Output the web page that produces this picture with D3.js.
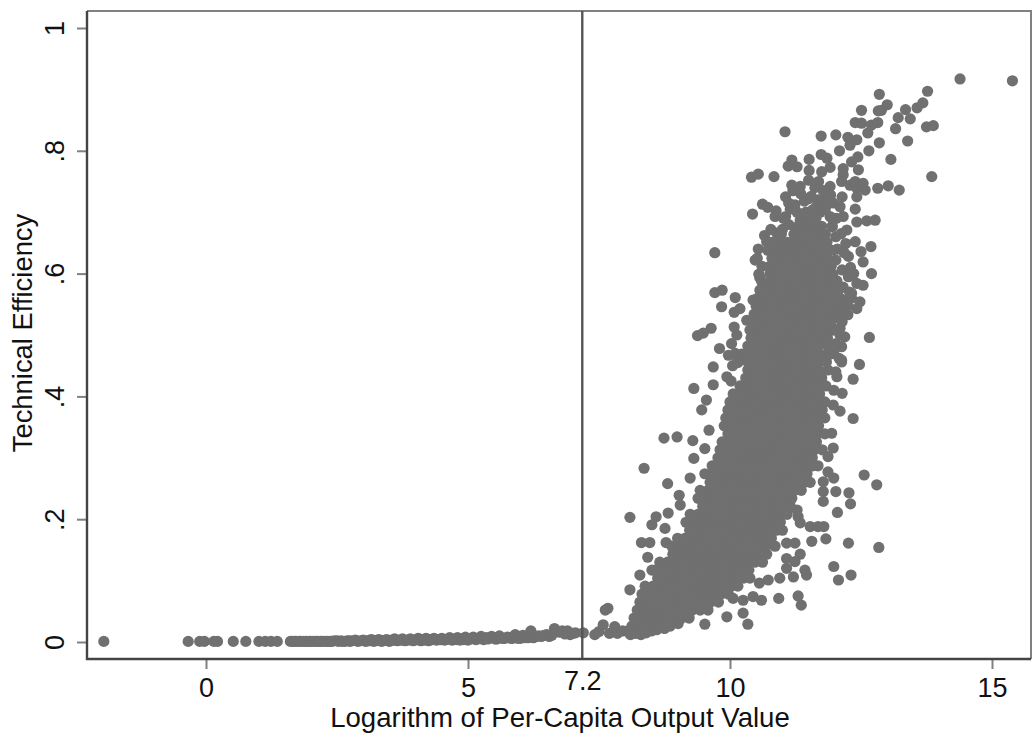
<!DOCTYPE html>
<html>
<head>
<meta charset="utf-8">
<script src="https://cdn.jsdelivr.net/npm/d3@7"></script>
<style>
  html, body {margin: 0; background: #fff;}
  text {font-family: "Liberation Sans", sans-serif; fill: #111;}
</style>
</head>
<body>
<div id="viz"></div>
<script>
// tick labels
const xTicks = [0, 5, 10, 15]
const yTicks = [0, .2, .4, .6, .8, 1]
const cutoff = 7.2

// low efficiency tail along the bottom
const tailX = [-1.95,-.34,-.12,-.03,.15,.22,.52,.76,1.01,1.13,1.24,1.36,1.61,1.7,1.8,1.9,2.0,2.1,2.2,2.3,2.4,2.5,2.6,2.7,2.75,2.85,2.9,3.0,3.05,3.15,3.2,3.3,3.35,3.45,3.5,3.6,3.65,3.75,3.8,3.9,3.95,4.05,4.1,4.2,4.25,4.35,4.4,4.5,4.55,4.65,4.7,4.8,4.85,4.95,5.0,5.1,5.15,5.25,5.3,5.4,5.45,5.55,5.6,5.7,5.75,5.85,5.9,6.0,6.05,6.15,6.2,6.3,6.4,6.5,6.55,6.65,6.75,6.8,6.95,7.05,7.2,7.42,7.5,7.58,7.62,7.67,7.7,7.8,7.85,7.95,8.05,8.1,8.2,8.3,8.4,8.5,8.6,8.75]
const tailY = [.001,.001,.001,.001,.001,.001,.001,.001,.001,.001,.001,.001,.001,.001,.001,.001,.001,.001,.001,.001,.001,.002,.001,.002,.001,.003,.001,.003,.001,.004,.001,.004,.001,.004,.001,.005,.002,.005,.002,.005,.002,.006,.002,.006,.002,.006,.003,.006,.003,.007,.003,.007,.003,.008,.003,.008,.004,.009,.004,.006,.009,.005,.01,.006,.008,.006,.012,.006,.011,.007,.018,.009,.009,.012,.009,.022,.016,.018,.012,.015,.015,.012,.017,.028,.052,.055,.014,.025,.014,.018,.018,.012,.014,.012,.015,.018,.02,.022]

// the same tail, points that fill the band between the ones above
const bandX = [1.65,1.72,1.78,1.85,1.93,1.98,2.05,2.13,2.18,2.25,2.33,2.38,2.45,2.53,2.58,2.65,2.72,2.78,2.88,2.95,3.02,3.08,3.12,3.18,3.25,3.28,3.38,3.42,3.48,3.55,3.58,3.68,3.72,3.78,3.85,3.88,3.98,4.02,4.08,4.15,4.18,4.28,4.32,4.38,4.45,4.48,4.58,4.62,4.68,4.75,4.78,4.88,4.92,4.98,5.05,5.08,5.18,5.22,5.28,5.35,5.38,5.48,5.52,5.58,5.65,5.68,5.78,5.82,5.88,5.95,5.98,6.08,6.12,6.18,6.25,6.35,6.45,6.6,6.7,6.85,6.9,7.0]
const bandY = [.001,.001,.001,.001,.001,.001,.001,.001,.001,.001,.001,.001,.002,.001,.002,.001,.002,.002,.002,.002,.002,.002,.002,.003,.002,.003,.002,.003,.002,.003,.003,.003,.003,.003,.003,.004,.003,.004,.003,.004,.003,.004,.004,.004,.004,.004,.004,.005,.004,.005,.004,.005,.004,.006,.005,.006,.005,.006,.005,.007,.005,.007,.005,.008,.006,.006,.007,.006,.008,.006,.009,.007,.008,.013,.007,.01,.011,.011,.018,.013,.018,.014]

const coreY = [.026,.039,.052,.065,.078,.091,.104,.117,.13,.143,.156,.169,.182,.195,.208,.221,.234,.247,.26,.274,.287,.3,.313,.326,.339,.352,.365,.378,.391,.404,.417,.43,.443,.456,.469,.482,.495,.508,.521,.534,.547,.56,.573,.586,.599,.612,.625,.638,.651,.664,.677,.69]
const coreX = [
  [8.13,8.28,8.41,8.57,8.72,8.86],
  [8.17,8.33,8.48,8.63,8.77,8.93,9.08,9.22],
  [8.23,8.38,8.52,8.68,8.83,8.98,9.12,9.28,9.43,9.58],
  [8.28,8.44,8.59,8.73,8.88,9.03,9.19,9.33,9.48,9.63,9.78],
  [8.32,8.47,8.62,8.78,8.92,9.07,9.23,9.38,9.52,9.67,9.83,9.97],
  [8.38,8.53,8.69,8.83,8.98,9.14,9.28,9.43,9.59,9.73,9.88,10.03,10.15],
  [8.62,8.76,8.92,9.07,9.21,9.37,9.52,9.66,9.81,9.97,10.11,10.26,10.38],
  [8.57,8.72,8.87,9.01,9.17,9.31,9.46,9.62,9.76,9.91,10.07,10.21,10.36],
  [8.66,8.81,8.96,9.12,9.26,9.41,9.57,9.71,9.86,10.02,10.16,10.31,10.47,10.62],
  [8.91,9.06,9.21,9.36,9.51,9.66,9.81,9.96,10.11,10.26,10.41,10.56,10.7],
  [8.89,9.04,9.19,9.33,9.49,9.64,9.78,9.94,10.09,10.23,10.39,10.54,10.69,10.86],
  [9.0,9.14,9.3,9.44,9.59,9.75,9.89,10.04,10.2,10.34,10.49,10.65,10.79],
  [9.23,9.38,9.54,9.68,9.83,9.99,10.13,10.28,10.44,10.58,10.73,10.89,11.0],
  [9.16,9.31,9.46,9.61,9.76,9.91,10.06,10.21,10.36,10.51,10.66,10.81,10.96],
  [9.24,9.39,9.54,9.69,9.84,9.99,10.14,10.29,10.44,10.59,10.74,10.89,11.0,11.09],
  [9.48,9.63,9.78,9.93,10.08,10.23,10.38,10.53,10.68,10.83,10.98,11.15],
  [9.39,9.54,9.69,9.84,9.99,10.14,10.29,10.44,10.59,10.74,10.89,11.04,11.18],
  [9.43,9.58,9.73,9.88,10.03,10.18,10.33,10.48,10.63,10.78,10.93,11.08,11.23,11.36],
  [9.62,9.77,9.92,10.07,10.22,10.37,10.52,10.67,10.82,10.97,11.12,11.27,11.42,11.53],
  [9.52,9.67,9.82,9.97,10.12,10.27,10.42,10.57,10.72,10.87,11.02,11.17,11.32,11.47],
  [9.66,9.81,9.96,10.11,10.26,10.41,10.56,10.71,10.86,11.01,11.16,11.31,11.46,11.58,11.68],
  [9.77,9.92,10.07,10.22,10.37,10.52,10.67,10.82,10.97,11.12,11.27,11.42,11.57],
  [9.81,9.96,10.11,10.26,10.41,10.56,10.71,10.86,11.01,11.16,11.31,11.46,11.61,11.76],
  [9.85,10.0,10.15,10.3,10.45,10.6,10.75,10.9,11.05,11.2,11.35,11.5,11.65],
  [9.96,10.02,10.17,10.32,10.47,10.62,10.77,10.92,11.07,11.22,11.37,11.52,11.67,11.81],
  [9.89,10.04,10.19,10.34,10.49,10.64,10.79,10.94,11.09,11.24,11.39,11.54,11.69],
  [9.92,10.07,10.22,10.37,10.52,10.67,10.82,10.97,11.12,11.27,11.42,11.57,11.72,11.81],
  [9.96,10.11,10.26,10.41,10.56,10.71,10.86,11.01,11.16,11.31,11.46,11.61,11.76],
  [10.0,10.15,10.3,10.45,10.6,10.75,10.9,11.05,11.2,11.35,11.5,11.65,11.81],
  [10.06,10.21,10.36,10.51,10.66,10.81,10.96,11.11,11.26,11.41,11.56,11.71],
  [10.19,10.34,10.49,10.64,10.79,10.94,11.09,11.24,11.39,11.54,11.69,11.83],
  [10.3,10.45,10.6,10.75,10.9,11.05,11.2,11.35,11.5,11.65,11.75],
  [10.34,10.49,10.64,10.79,10.94,11.09,11.24,11.39,11.54,11.69,11.87],
  [10.34,10.49,10.64,10.79,10.94,11.09,11.24,11.39,11.54,11.69,11.84],
  [10.22,10.34,10.49,10.64,10.79,10.94,11.09,11.24,11.39,11.54,11.69,11.84,11.91],
  [10.34,10.49,10.64,10.79,10.94,11.09,11.24,11.39,11.54,11.69,11.87],
  [10.4,10.55,10.7,10.85,11.0,11.15,11.3,11.45,11.6,11.75,11.86],
  [10.38,10.53,10.68,10.83,10.98,11.13,11.28,11.43,11.58,11.73,11.88,11.97],
  [10.42,10.57,10.72,10.87,11.02,11.17,11.32,11.47,11.62,11.77,11.92],
  [10.46,10.61,10.76,10.91,11.06,11.21,11.36,11.51,11.66,11.81,11.96,12.08],
  [10.5,10.65,10.8,10.95,11.1,11.25,11.4,11.55,11.7,11.85,12.0,12.15,12.25],
  [10.53,10.68,10.83,10.98,11.13,11.28,11.43,11.58,11.73,11.88,12.03],
  [10.57,10.72,10.87,11.02,11.17,11.32,11.47,11.62,11.77,11.92,12.07],
  [10.61,10.76,10.91,11.06,11.21,11.36,11.51,11.66,11.81,11.96],
  [10.55,10.76,10.91,11.06,11.21,11.36,11.51,11.66,11.81,11.96],
  [10.61,10.76,10.91,11.06,11.21,11.36,11.51,11.66,11.81,11.93],
  [10.52,10.8,10.95,11.1,11.25,11.4,11.55,11.7,11.85],
  [10.72,10.87,11.02,11.17,11.32,11.47,11.62,11.77,11.95],
  [10.8,10.95,11.1,11.25,11.4,11.55,11.7,11.85],
  [10.98,11.22,11.37,11.52,11.67,11.82],
  [11.3,11.45,11.6,11.75,11.95],
  [11.49,11.64,11.95]
]

// scattered points around the cloud
const edgeX = [15.39,14.39,13.77,12.85,13.68,13.57,13.35,13.44,13.21,13.16,13.0,12.89,12.83,12.51,13.88,13.75,13.39,12.85,12.65,13.07,13.85,13.23,13.02,12.82,11.05,11.74,12.02,12.25,12.42,12.29,12.09,12.39,12.51,12.63,12.7,12.82,12.47,12.35,12.14,12.35,12.56,12.8,12.02,12.27,12.3,12.05,11.78,11.78,11.78,11.98,11.87,11.28,11.3,11.34,11.53,11.68,11.79,11.83,11.56,12.26,12.84,11.08,11.24,11.34,11.08,11.24,11.08,11.43,11.46,11.98,12.31,12.07,11.21,10.95,10.73,10.56,10.93,11.3,11.36,10.6,10.44,10.25,10.25,10.34,10.06,9.94,9.52,9.01,8.09,8.36,9.31,9.68,9.68,9.55,9.46,8.74,8.99,9.29,9.6,9.52,9.31,9.24,8.81,9.03,9.05,8.09,8.59,8.82,8.51,8.76,8.31,8.47,8.78,8.43,8.28,8.51,9.71,9.85,9.71,10.1,9.84,10.19,10.08,9.64,9.49,9.38,10.08,10.13,10.03,9.8,9.97,10.43,10.86,11.06,10.62,10.72,10.41,10.54,10.84,11.06,11.24,11.18,11.11,11.28,11.51,11.51,11.74,11.85,11.91,11.75,12.16,12.45,12.44,12.32,12.16,11.18,11.34,11.5,11.69,11.91,11.5,11.85,12.14,12.13,12.39,12.54,12.42,12.58,12.42,12.29,12.39,12.61,12.77,12.42,12.23,12.1,11.97,11.65,11.59,11.34,11.91,12.16,12.69,12.39,12.21,12.26,12.5,12.54,12.7,12.26,12.54,12.42,12.32,12.48,12.42,12.25,12.1,12.19,12.13,12.66,12.13,10.7,10.89,10.54,10.48,10.57,10.44,10.32,12.04,11.97,12.1,11.94,11.97,11.87,12.13,9.94,10.02,10.05,10.15,10.1,10.15]
const edgeY = [.914,.917,.897,.892,.878,.87,.867,.852,.854,.836,.875,.866,.865,.866,.841,.839,.816,.813,.8,.786,.758,.736,.743,.739,.831,.824,.826,.822,.818,.809,.8,.846,.845,.829,.842,.846,.452,.428,.405,.364,.272,.256,.245,.243,.225,.211,.229,.245,.261,.267,.277,.215,.204,.194,.188,.188,.188,.168,.164,.161,.154,.161,.161,.143,.136,.131,.12,.117,.109,.123,.109,.101,.106,.104,.101,.096,.071,.075,.06,.068,.074,.068,.047,.029,.071,.041,.029,.03,.085,.283,.413,.419,.448,.394,.378,.332,.334,.328,.345,.315,.299,.267,.258,.239,.223,.203,.204,.21,.191,.185,.162,.162,.162,.138,.109,.117,.634,.573,.569,.561,.546,.543,.537,.511,.503,.499,.513,.5,.486,.478,.467,.697,.693,.693,.713,.708,.757,.762,.758,.725,.712,.785,.775,.774,.786,.768,.794,.788,.773,.766,.771,.769,.79,.782,.761,.744,.742,.752,.75,.742,.722,.725,.725,.75,.75,.747,.739,.736,.725,.744,.705,.686,.687,.684,.671,.709,.715,.709,.693,.687,.693,.693,.644,.652,.649,.628,.636,.619,.6,.595,.581,.584,.568,.554,.543,.533,.511,.497,.481,.496,.459,.652,.666,.64,.622,.593,.557,.524,.432,.386,.376,.34,.316,.302,.456,.432,.425,.45,.46,.47,.455]

// extra points in the thinner upper and right parts of the cloud
const upperX = [11.0,11.12,11.25,11.38,11.45,11.58,11.72,11.8,11.95,12.02,11.15,11.28,11.42,11.55,11.68,11.82,11.2,11.35,11.62,11.78,11.92,12.03,12.12,12.05,12.18,12.3,12.02,12.14,12.27,12.36,12.04,12.16,12.28,12.1,12.2,12.32,12.06,12.18,12.06,12.14,12.0,12.1,12.02,11.98,12.08,12.02,11.98,10.88,10.78,10.66,11.02,11.12]
const upperY = [.672,.68,.672,.682,.7,.704,.7,.71,.676,.66,.705,.7,.718,.726,.72,.706,.735,.73,.74,.735,.728,.69,.665,.64,.634,.61,.622,.606,.596,.6,.588,.578,.57,.56,.556,.56,.545,.54,.528,.522,.51,.5,.486,.47,.462,.44,.41,.702,.672,.662,.69,.715]

const points = []
tailX.forEach(function(d, i) {points.push([d, tailY[i]])})
bandX.forEach(function(d, i) {points.push([d, bandY[i]])})
edgeX.forEach(function(d, i) {points.push([d, edgeY[i]])})
upperX.forEach(function(d, i) {points.push([d, upperY[i]])})
coreX.forEach(function(row, i) {
    row.forEach(function(d) {points.push([d, coreY[i]])})
})

// dimensions of the page and of the plot frame
const width = 1034
const height = 736
const frame = {left: 87, top: 11, right: 1031, bottom: 659}
const fontSize = 27

const svg = d3.select("#viz")
        .append("svg")
        .attr("width", width)
        .attr("height", height)
        .style("display", "block")

// x and y transform, calibrated on the tick marks
const x = d3.scaleLinear().domain([0, 15]).range([206, 992])
const y = d3.scaleLinear().domain([0, 1]).range([642, 28])

// lighter top and right sides of the frame
svg.append("path")
    .attr("d", "M" + frame.left + "," + frame.top + "H" + frame.right + "V" + frame.bottom)
    .attr("fill", "none")
    .attr("stroke", "#808080")
    .attr("stroke-width", 2)

// points
svg.append("g")
    .selectAll("circle")
    .data(points)
    .enter()
    .append("circle")
    .attr("cx", function(d) {return x(d[0])})
    .attr("cy", function(d) {return y(d[1])})
    .attr("r", 5.6)
    .attr("fill", "#707070")

// vertical line at the cutoff
svg.append("line")
    .attr("x1", x(cutoff) - 1)
    .attr("x2", x(cutoff) - 1)
    .attr("y1", frame.top)
    .attr("y2", frame.bottom)
    .attr("stroke", "#555")
    .attr("stroke-width", 2.4)

// x axis
const xAxis = svg.append("g")
    .attr("transform", "translate(0," + frame.bottom + ")")
    .call(d3.axisBottom(x).tickValues(xTicks).tickFormat(d3.format("d")).tickSize(10).tickPadding(9))
xAxis.select(".domain").remove()
xAxis.selectAll("line").attr("stroke", "#808080").attr("stroke-width", 2)
xAxis.selectAll("text").style("font-size", fontSize + "px").attr("fill", "#111")

// cutoff label sits higher than the other x labels
const cutAxis = svg.append("g")
    .attr("transform", "translate(-1," + frame.bottom + ")")
    .call(d3.axisBottom(x).tickValues([cutoff]).tickFormat(d3.format(".1f")).tickSize(0).tickPadding(12))
cutAxis.select(".domain").remove()
cutAxis.selectAll("text").style("font-size", fontSize + "px").attr("fill", "#111")

// y axis, labels turned and without leading zero
const yAxis = svg.append("g")
    .attr("transform", "translate(" + frame.left + ",0)")
    .call(d3.axisLeft(y).tickValues(yTicks).tickSize(10).tickPadding(8)
        .tickFormat(function(d) {return String(d).replace("0.", ".")}))
yAxis.select(".domain").remove()
yAxis.selectAll("line").attr("stroke", "#808080").attr("stroke-width", 2)
yAxis.selectAll("text")
    .style("font-size", fontSize + "px")
    .attr("fill", "#111")
    .attr("text-anchor", "middle")
    .attr("dy", 0)
    .attr("x", 0)
    .attr("transform", "translate(-23,0)rotate(-90)")

// darker left and bottom sides of the frame
svg.append("path")
    .attr("d", "M" + frame.left + "," + frame.top + "V" + frame.bottom + "H" + frame.right)
    .attr("fill", "none")
    .attr("stroke", "#444")
    .attr("stroke-width", 2.4)

// axis labels
svg.append("text")
    .attr("x", 560)
    .attr("y", 727)
    .attr("text-anchor", "middle")
    .attr("font-size", 27.6)
    .text("Logarithm of Per-Capita Output Value")

svg.append("text")
    .attr("transform", "translate(32,333)rotate(-90)")
    .attr("text-anchor", "middle")
    .attr("font-size", 27.4)
    .text("Technical Efficiency")
</script>
</body>
</html>
